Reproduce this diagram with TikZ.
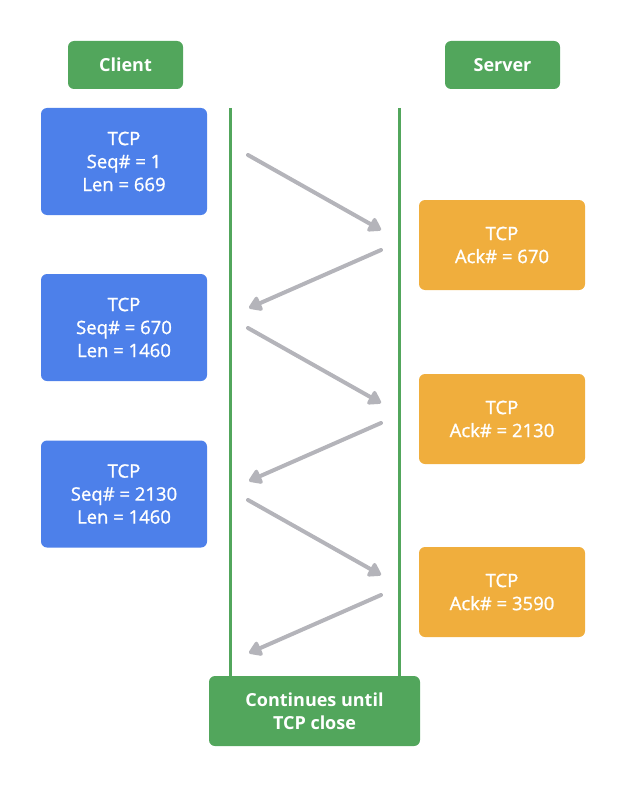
\documentclass[tikz,border=0pt]{standalone}
\usepackage{fontspec}
\setmainfont{Open Sans}
\newfontfamily\medfont{Open Sans}[FakeBold=1.2]
\usetikzlibrary{arrows.meta}
\definecolor{tcpgreen}{HTML}{52A65C}
\definecolor{tcpblue}{HTML}{4D80EA}
\definecolor{tcporange}{HTML}{F0AE3D}
\definecolor{tcpgray}{HTML}{B4B4BA}

\tikzset{
  hostbox/.style={rectangle, rounded corners=6pt, fill=tcpgreen, text=white,
    font=\fontsize{18}{23}\selectfont\bfseries, minimum width=115pt, minimum height=48pt},
  seqbox/.style={rectangle, rounded corners=6pt, fill=tcpblue, text=white, align=center,
    font=\medfont\fontsize{18.5}{23}\selectfont, minimum width=166pt, minimum height=107pt},
  ackbox/.style={rectangle, rounded corners=6pt, fill=tcporange, text=white, align=center,
    font=\medfont\fontsize{18.5}{23}\selectfont, minimum width=166pt, minimum height=90pt},
  endbox/.style={rectangle, rounded corners=6pt, fill=tcpgreen, text=white, align=center,
    font=\fontsize{18}{23}\selectfont\bfseries, minimum width=211pt, minimum height=70pt},
  timeline/.style={draw=tcpgreen, line width=3pt},
  segment/.style={draw=tcpgray, line width=4pt, line cap=round,
    -{Triangle[length=14pt, width=17pt, round]}}
}

\begin{document}
\begin{tikzpicture}[x=1pt, y=-1pt]
  \useasboundingbox (0,0) rectangle (625,789);

  % hosts
  \node[hostbox] (client) at (125.5,65) {Client};
  \node[hostbox] (server) at (502.5,65) {Server};

  % time lines
  \coordinate (ctop) at (230,108);
  \coordinate (cbot) at (230,677);
  \coordinate (stop) at (399,108);
  \coordinate (sbot) at (399,677);
  \draw[timeline] (ctop) -- (cbot);
  \draw[timeline] (stop) -- (sbot);

  % client segments
  \node[seqbox] (seq1) at (124,161.5) {TCP\\Seq\# = 1\\Len = 669};
  \node[seqbox] (seq2) at (124,327.5) {TCP\\Seq\# = 670\\Len = 1460};
  \node[seqbox] (seq3) at (124,494) {TCP\\Seq\# = 2130\\Len = 1460};

  % server acks
  \node[ackbox] (ack1) at (502,245) {TCP\\Ack\# = 670};
  \node[ackbox] (ack2) at (502,419) {TCP\\Ack\# = 2130};
  \node[ackbox] (ack3) at (502,592) {TCP\\Ack\# = 3590};

  \node[endbox] (close) at (314.5,711) {Continues until\\TCP close};

  % arrows between the time lines
  \foreach \y [count=\i] in {155,328,500} {
    \coordinate (out\i) at (248,\y);
    \coordinate (in\i) at (381,\y+75);
    \coordinate (back\i) at (381,\y+95);
    \coordinate (ret\i) at (249,\y+153);
    \draw[segment] (out\i) -- (in\i);
    \draw[segment] (back\i) -- (ret\i);
  }
\end{tikzpicture}
\end{document}
